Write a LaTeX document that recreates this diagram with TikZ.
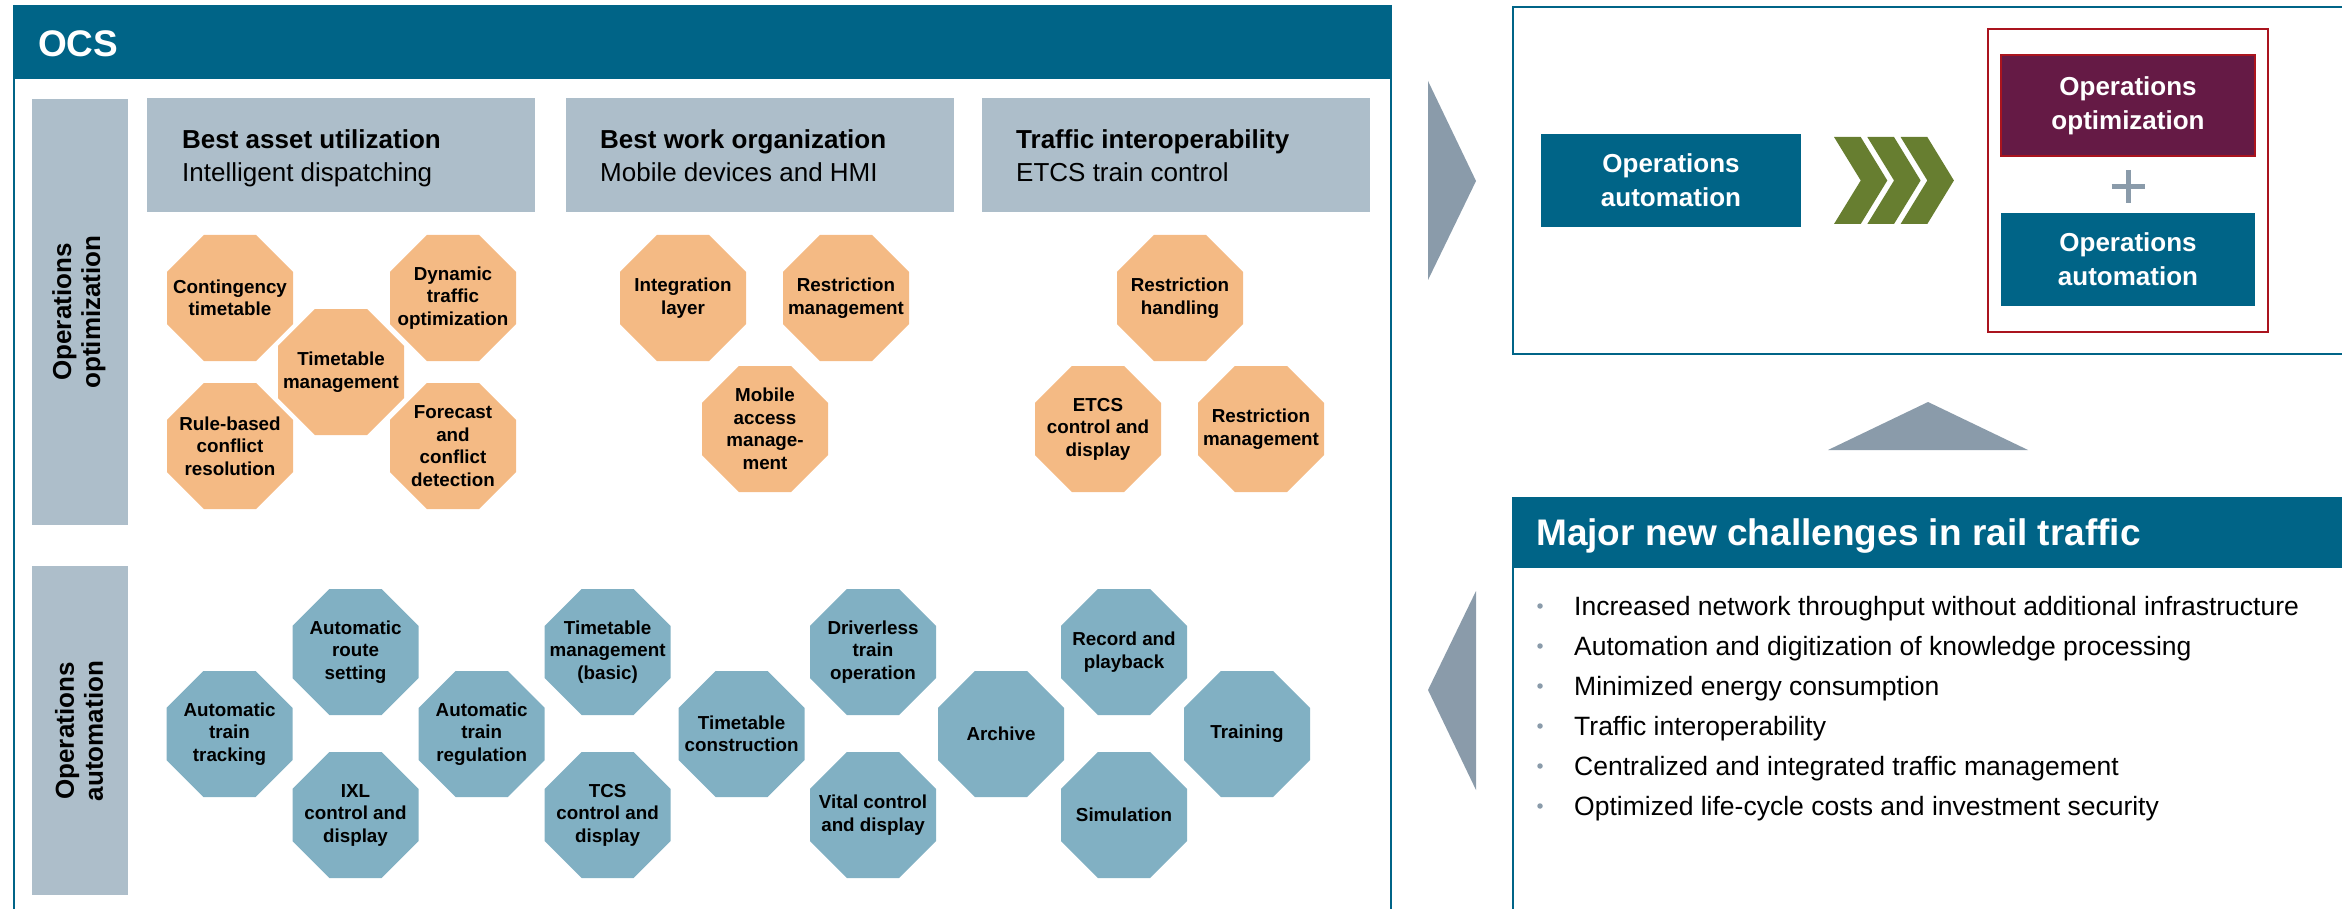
\documentclass[tikz,border=0pt]{standalone}
\usepackage{fontspec}
\setmainfont{Liberation Sans}
\definecolor{tealA}{RGB}{0,100,135}
\definecolor{peach}{RGB}{244,186,132}
\definecolor{octblue}{RGB}{129,176,195}
\definecolor{hdrgray}{RGB}{173,190,202}
\definecolor{plum}{RGB}{101,26,69}
\definecolor{redb}{RGB}{170,20,30}
\definecolor{olive}{RGB}{103,126,48}
\definecolor{trigray}{RGB}{138,155,170}
\newcommand\myocta[5]{%
  \fill[#4] (#2-26.1,#3-63) -- (#2+26.1,#3-63) -- (#2+63,#3-26.1) -- (#2+63,#3+26.1)
    -- (#2+26.1,#3+63) -- (#2-26.1,#3+63) -- (#2-63,#3+26.1) -- (#2-63,#3-26.1) -- cycle;
  \node[otext] (#1) at (#2,#3) {#5};}
\newcommand\mychev[1]{%
  \fill[olive] (#1,137) -- (#1+26.7,137) -- (#1+53.3,180.5) -- (#1+26.7,224) -- (#1,224) -- (#1+26.7,180.5) -- cycle;}
\begin{document}
\begin{tikzpicture}[x=1pt,y=-1pt,
  otext/.style={font=\fontsize{18.8}{22.5}\selectfont\bfseries, align=center, inner sep=0pt, text=black},
  bartext/.style={font=\fontsize{26}{29}\selectfont\bfseries, align=center, inner sep=0pt, rotate=90},
  hdrbold/.style={font=\fontsize{26}{31}\selectfont\bfseries, anchor=base west, inner sep=0pt},
  hdrreg/.style={font=\fontsize{26}{31}\selectfont, anchor=base west, inner sep=0pt},
  whitebox/.style={font=\fontsize{26}{34}\selectfont\bfseries, align=center, inner sep=0pt, text=white},
  bigtitle/.style={font=\fontsize{37}{44}\selectfont\bfseries, anchor=base west, inner sep=0pt, text=white},
  bullettext/.style={font=\fontsize{26.5}{31}\selectfont, anchor=base west, inner sep=0pt},
  dot/.style={circle, fill=trigray, inner sep=0pt, minimum size=5.5pt},
  frame/.style={draw=tealA, line width=2pt}
]
\useasboundingbox (0,0) rectangle (2342,909);

% ---------------- OCS panel ----------------
\draw[frame] (13.5,5) -- (13.5,920);
\draw[frame] (1390.5,5) -- (1390.5,920);
\fill[tealA] (12.5,5) rectangle (1391.5,79);
\node[bigtitle] (ocs) at (38,57) {OCS};

% side bars
\fill[hdrgray] (32,99) rectangle (128,525);
\node[bartext] (baropt) at (79,312) {Operations\\optimization};
\fill[hdrgray] (32,566) rectangle (128,895);
\node[bartext] (barauto) at (79,731) {Operations\\automation};

% header boxes
\fill[hdrgray] (147,98) rectangle (535,212);
\node[hdrbold] (h1a) at (182,149) {Best asset utilization};
\node[hdrreg] (h1b) at (182,182) {Intelligent dispatching};
\fill[hdrgray] (566,98) rectangle (954,212);
\node[hdrbold] (h2a) at (600,149) {Best work organization};
\node[hdrreg] (h2b) at (600,182) {Mobile devices and HMI};
\fill[hdrgray] (982,98) rectangle (1370,212);
\node[hdrbold] (h3a) at (1016,149) {Traffic interoperability};
\node[hdrreg] (h3b) at (1016,182) {ETCS train control};

% optimization octagons
\myocta{o1}{230}{298}{peach}{Contingency\\timetable}
\myocta{o2}{341}{372}{peach}{Timetable\\management}
\myocta{o3}{453}{298}{peach}{Dynamic\\traffic\\optimization}
\myocta{o4}{230}{446}{peach}{Rule-based\\conflict\\resolution}
\myocta{o5}{453}{446}{peach}{Forecast\\and\\conflict\\detection}
\myocta{o6}{683}{298}{peach}{Integration\\layer}
\myocta{o7}{846}{298}{peach}{Restriction\\management}
\myocta{o8}{765}{429}{peach}{Mobile\\access\\manage-\\ment}
\myocta{o9}{1180}{298}{peach}{Restriction\\handling}
\myocta{o10}{1098}{429}{peach}{ETCS\\control and\\display}
\myocta{o11}{1261}{429}{peach}{Restriction\\management}

% automation octagons
\myocta{b1}{229.5}{734}{octblue}{Automatic\\train\\tracking}
\myocta{b2}{355.5}{652}{octblue}{Automatic\\route\\setting}
\myocta{b3}{355.5}{815}{octblue}{IXL\\control and\\display}
\myocta{b4}{481.7}{734}{octblue}{Automatic\\train\\regulation}
\myocta{b5}{607.6}{652}{octblue}{Timetable\\management\\(basic)}
\myocta{b6}{607.6}{815}{octblue}{TCS\\control and\\display}
\myocta{b7}{741.6}{734}{octblue}{Timetable\\construction}
\myocta{b8}{873}{652}{octblue}{Driverless\\train\\operation}
\myocta{b9}{873}{815}{octblue}{Vital control\\and display}
\myocta{b10}{1001}{734}{octblue}{Archive}
\myocta{b11}{1124}{652}{octblue}{Record and\\playback}
\myocta{b12}{1124}{815}{octblue}{Simulation}
\myocta{b13}{1247}{734}{octblue}{Training}

% ---------------- right side ----------------
\fill[trigray] (1428,81) -- (1476,181) -- (1428,280) -- cycle;
\draw[frame] (1512.5,7) rectangle (2360,354);
\node[whitebox, fill=tealA, minimum width=260pt, minimum height=93pt] (oa1) at (1671,180.5) {Operations\\automation};
\mychev{1834}
\mychev{1867.3}
\mychev{1900.6}
\draw[draw=redb, line width=2pt] (1988,29) rectangle (2268,332);
\node[whitebox, fill=plum, draw=redb, line width=1.5pt, minimum width=254pt, minimum height=101pt] (oo) at (2128,105.5) {Operations\\optimization};
\draw[trigray, line width=5pt] (2128,170) -- (2128,203) (2111.5,186.5) -- (2144.5,186.5);
\node[whitebox, fill=tealA, minimum width=254pt, minimum height=93pt] (oa2) at (2128,259.5) {Operations\\automation};

\fill[trigray] (1828,450) -- (1928,402) -- (2028,450) -- cycle;

% challenges panel
\draw[frame] (1512.5,920) -- (1512.5,497.5) -- (2360,497.5);
\fill[tealA] (1511.5,497) rectangle (2360,568);
\node[bigtitle] (chal) at (1536,545) {Major new challenges in rail traffic};
\fill[trigray] (1476,591) -- (1428,690) -- (1476,790) -- cycle;

\node[dot] (d1) at (1540,606) {};
\node[bullettext] (t1) at (1574,615) {Increased network throughput without additional infrastructure};
\node[dot] (d2) at (1540,646) {};
\node[bullettext] (t2) at (1574,655) {Automation and digitization of knowledge processing};
\node[dot] (d3) at (1540,686) {};
\node[bullettext] (t3) at (1574,695) {Minimized energy consumption};
\node[dot] (d4) at (1540,726) {};
\node[bullettext] (t4) at (1574,735) {Traffic interoperability};
\node[dot] (d5) at (1540,766) {};
\node[bullettext] (t5) at (1574,775) {Centralized and integrated traffic management};
\node[dot] (d6) at (1540,806) {};
\node[bullettext] (t6) at (1574,815) {Optimized life-cycle costs and investment security};
\end{tikzpicture}
\end{document}
